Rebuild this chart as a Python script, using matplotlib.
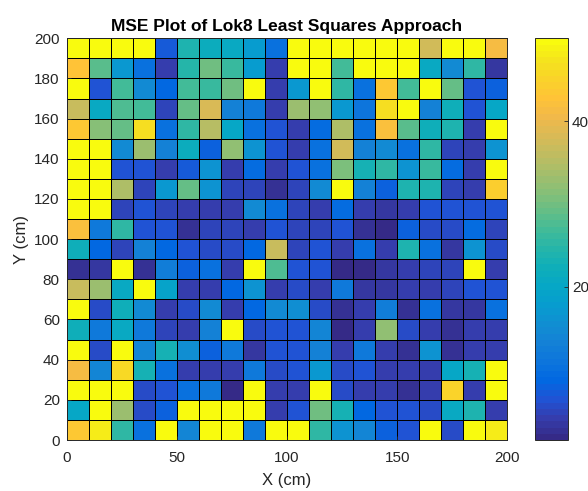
import numpy as np
import matplotlib
matplotlib.use("Agg")
import matplotlib.pyplot as plt
from matplotlib.colors import LinearSegmentedColormap

plt.rcParams['font.family'] = ['Liberation Sans', 'DejaVu Sans']

# cell edges (cm)
x_edges = np.linspace(0, 200, 21)
y_edges = np.linspace(0, 200, 21)

# MSE per cell, rows listed from top (y=190-200) to bottom (y=0-10)
mse_rows = [
    [50, 50, 50, 50, 6.9, 24.2, 21.3, 20.5, 17.6, 9.9, 50, 50, 50, 50, 50, 50, 37.4, 50, 50, 41.1],
    [43.1, 28.5, 17.3, 9.9, 3.8, 24.7, 30, 25.8, 17.6, 3.8, 50, 50, 26.9, 50, 50, 50, 20.5, 15, 25.3, 3.1],
    [50, 6.4, 26.9, 14.6, 8.9, 26.9, 25.8, 30, 50, 3.8, 16.9, 50, 25.3, 9.9, 43.7, 26.9, 50, 28.9, 6.1, 7.8],
    [36.8, 20.5, 27.4, 26.8, 5.2, 29.4, 38.4, 13.1, 11.5, 3.8, 32.6, 32.1, 16.9, 11, 46.9, 50, 13.1, 22.1, 6.1, 20],
    [43.7, 31.6, 29.4, 46.3, 9.9, 25.3, 35.3, 20.3, 9.9, 6.4, 4.1, 9.4, 34.2, 9.9, 42.1, 28.4, 22.6, 24.2, 4.5, 50],
    [50, 50, 15, 33.1, 13.1, 21.3, 7.8, 32.1, 16.1, 6.4, 3.8, 9.9, 37.4, 13.1, 14.7, 10.5, 25.3, 5.2, 3.9, 16.3],
    [50, 50, 6.4, 6.4, 4.5, 7.3, 16.3, 3.8, 9.4, 3.8, 6.4, 9.9, 31, 23.1, 25.3, 16.1, 25.8, 9.4, 4.1, 50],
    [50, 50, 34.2, 5.2, 17.3, 29.4, 16.1, 5.2, 5.2, 2.6, 4.9, 15, 50, 13.1, 7.8, 23.9, 23.9, 5.2, 4.4, 44.2],
    [50, 50, 4.7, 6.1, 5.2, 4.5, 4.5, 3.8, 15, 10.5, 4.7, 3.8, 9.4, 3.8, 3.1, 3.8, 6.4, 6.4, 6.4, 6.4],
    [42.1, 11.5, 25.3, 6.1, 6.4, 2.6, 4.7, 5.1, 4.4, 6.4, 4.7, 5.2, 6.1, 2.6, 2, 7.8, 5.3, 5.3, 9.4, 4.7],
    [22.3, 8.9, 5.1, 13.1, 8.9, 6.4, 5.3, 5.3, 8.9, 36.5, 5.1, 6.6, 3.8, 10.5, 4.1, 23.9, 10.5, 3.4, 16.3, 5.5],
    [2.6, 3.4, 50, 2.6, 12.6, 7.6, 9.9, 4.4, 50, 27.4, 6.6, 6.1, 2, 2, 3.6, 4.4, 5.1, 5.1, 50, 3.8],
    [36.5, 33.1, 21.1, 50, 19.6, 3.8, 3.8, 8.9, 16.3, 4.4, 5.7, 3.8, 12, 3.1, 3.1, 3.8, 4.4, 5.1, 6.1, 6.8],
    [50, 5.5, 22.3, 14.6, 3.8, 5.5, 14.6, 3.8, 8.9, 14.6, 15.7, 5.5, 2.6, 3.8, 12.6, 2.6, 10.5, 3.4, 3.1, 9.9],
    [22.3, 12, 20.5, 12, 5.1, 4.4, 13.6, 50, 5.3, 6.4, 6.4, 14.2, 2, 3.8, 32.1, 5.7, 3.8, 2.6, 3.8, 4.1],
    [50, 5.3, 50, 14.2, 23.1, 15.7, 7.6, 11.5, 3.6, 6.4, 6.4, 13.1, 4.1, 11.5, 3.8, 2.6, 16.1, 2.6, 3.8, 4.4],
    [41.1, 14.2, 46.1, 23.1, 9.9, 4.4, 3.8, 3.8, 11.5, 5.5, 6.1, 17.3, 5.5, 6.1, 3.8, 3.8, 3.8, 20, 23.1, 50],
    [50, 50, 50, 5.5, 6.4, 9.9, 11.5, 2, 50, 4.4, 4.4, 50, 5.5, 4.4, 4.4, 2.6, 4.4, 45, 3.8, 50],
    [20, 50, 33.1, 5.3, 7.6, 50, 50, 50, 50, 3.8, 6.6, 30, 23.1, 8.4, 6.1, 6.1, 5.3, 21.1, 23.9, 3.8],
    [43.9, 48.4, 25.3, 9.9, 50, 14.2, 50, 50, 11.5, 50, 50, 25.3, 16.3, 14.2, 7.8, 6.4, 50, 5.5, 50, 47.9],
]

x_ticks = [0, 50, 100, 150, 200]
y_ticks = [0, 20, 40, 60, 80, 100, 120, 140, 160, 180, 200]
cbar_ticks = [20, 40]

# rough parula (MATLAB default map)
parula_pts = [
    (0.2081, 0.1663, 0.5292), (0.2081, 0.2386, 0.6771), (0.1253, 0.3242, 0.8303),
    (0.0060, 0.4086, 0.8828), (0.0498, 0.4586, 0.8641), (0.0779, 0.5040, 0.8384),
    (0.0641, 0.5570, 0.8240), (0.0265, 0.6137, 0.8135), (0.0228, 0.6535, 0.7768),
    (0.0590, 0.6838, 0.7254), (0.1453, 0.7098, 0.6646), (0.2586, 0.7317, 0.5954),
    (0.3953, 0.7459, 0.5244), (0.5300, 0.7491, 0.4661), (0.6473, 0.7456, 0.4188),
    (0.7525, 0.7384, 0.3768), (0.8507, 0.7299, 0.3360), (0.9450, 0.7261, 0.2886),
    (0.9990, 0.7653, 0.2164), (0.9789, 0.8271, 0.1633), (0.9589, 0.8949, 0.1132),
    (0.9763, 0.9831, 0.0538),
]
parula = LinearSegmentedColormap.from_list('parula', parula_pts, N=64)

mse = np.flipud(np.array(mse_rows))
dark = '#262626'

W, H = 588, 491
fig = plt.figure(figsize=(W / 100, H / 100), dpi=100)
ax = fig.add_axes([66.7 / W, 1 - 440 / H, (507.3 - 66.7) / W, (440 - 38.3) / H])
cax = fig.add_axes([535 / W, 1 - 440.3 / H, (567.7 - 535) / W, (440.3 - 38.3) / H])

mesh = ax.pcolormesh(x_edges, y_edges, mse, cmap=parula, vmin=1.5, vmax=50,
                     edgecolors='k', linewidth=0.5)
ax.set_xlim(0, 200)
ax.set_ylim(0, 200)
ax.set_xticks(x_ticks)
ax.set_yticks(y_ticks)
ax.tick_params(direction='in', length=3, width=0.6, colors=dark, labelsize=11,
               top=False, right=False)
ax.tick_params(axis='x', pad=8)
ax.tick_params(axis='y', pad=5)
for s in ax.spines.values():
    s.set_color(dark)
    s.set_linewidth(0.7)

ax.set_title('MSE Plot of Lok8 Least Squares Approach', fontsize=12.5,
             fontweight='bold', color='k', pad=5)
ax.set_xlabel('X (cm)', fontsize=12, color=dark, labelpad=6)
ax.set_ylabel('Y (cm)', fontsize=12, color=dark, labelpad=4)

cb = fig.colorbar(mesh, cax=cax)
cb.set_ticks(cbar_ticks)
cb.ax.tick_params(direction='in', length=3, width=0.6, colors=dark, labelsize=11, pad=3)
cb.outline.set_edgecolor(dark)
cb.outline.set_linewidth(0.7)

fig.savefig('out.png', dpi=100)
